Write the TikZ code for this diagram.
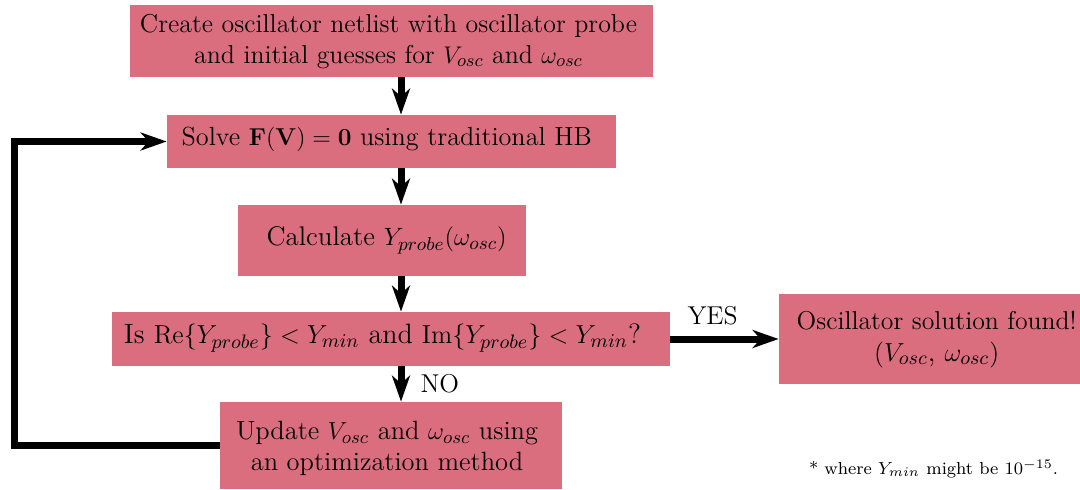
\documentclass[tikz,border=0pt]{standalone}
\usepackage{amsmath}
\usepackage{graphicx}
\usetikzlibrary{arrows.meta}
\definecolor{boxred}{RGB}{219,110,126}
\newcommand\fitw[2]{\resizebox{#1}{!}{\begin{tabular}{@{}c@{}}#2\end{tabular}}}
\begin{document}
\begin{tikzpicture}[x=0.5pt,y=-0.5pt,
  box/.style={fill=boxred, draw=none, inner sep=0pt},
  txt/.style={inner sep=0pt, align=center, font=\fontsize{12.9}{15}\selectfont},
  arr/.style={line width=3.5pt, -{Stealth[length=13pt,width=9pt,inset=4pt]}},
  lab/.style={font=\fontsize{12.9}{15}\selectfont, inner sep=0pt}]
\useasboundingbox (0,0) rectangle (1080,489);
\node[box, minimum width=523*0.5pt, minimum height=72*0.5pt] (top) at (391.5,41) {};
\node[txt] (toptxt) at (388.5,42)
  {\fitw{248.5pt}{Create oscillator netlist with oscillator probe\\ and initial guesses for $V_{osc}$ and $\omega_{osc}$}};
\node[box, minimum width=449*0.5pt, minimum height=53*0.5pt] (solve) at (391.5,141.5) {};
\node[txt] (solvetxt) at (386.7,139)
  {\fitw{205pt}{Solve $\mathbf{F}(\mathbf{V})=\mathbf{0}$ using traditional HB}};
\node[box, minimum width=288*0.5pt, minimum height=71*0.5pt] (calc) at (382,240.5) {};
\node[txt] (calctxt) at (386.7,239.5) {\fitw{120pt}{Calculate $Y_{probe}(\omega_{osc})$}};
\node[box, minimum width=558*0.5pt, minimum height=54*0.5pt] (dec) at (391,339) {};
\node[txt] (dectxt) at (382.5,337)
  {\fitw{258.5pt}{Is $\mathrm{Re}\{Y_{probe}\}<Y_{min}$ and $\mathrm{Im}\{Y_{probe}\}<Y_{min}$?}};
\node[box, minimum width=342*0.5pt, minimum height=87*0.5pt] (upd) at (391,445.5) {};
\node[txt] (updtxt) at (387,449)
  {\fitw{151pt}{Update $V_{osc}$ and $\omega_{osc}$ using\\ an optimization method}};
\node[box, minimum width=301*0.5pt, minimum height=90*0.5pt] (res) at (929.5,339) {};
\node[txt] (restxt) at (936.7,339)
  {\begin{tabular}{@{}c@{}}\resizebox{140pt}{!}{Oscillator solution found!}\\[1pt]
   \resizebox{62.5pt}{!}{$(V_{osc}$, $\omega_{osc})$}\end{tabular}};
\coordinate (ax) at (401,0);
\coordinate (lx) at (14,0);
\draw[arr] (top.south -| ax) -- (solve.north -| ax);
\draw[arr] (solve.south -| ax) -- (calc.north -| ax);
\draw[arr] (calc.south -| ax) -- (dec.north -| ax);
\draw[arr] (dec.south -| ax) -- (upd.north -| ax) node[lab, pos=0.5, right=8pt] {NO};
\draw[arr] (dec.east) -- (res.west) node[lab, pos=0.39, above=5pt] {YES};
\draw[arr, line join=miter] (upd.west) -- (upd.west -| lx) -- (solve.west -| lx) -- (solve.west);
\node[inner sep=0pt] (fn) at (933.5,469) {\fitw{124.5pt}{\footnotesize * where $Y_{min}$ might be $10^{-15}$.}};
\end{tikzpicture}
\end{document}
